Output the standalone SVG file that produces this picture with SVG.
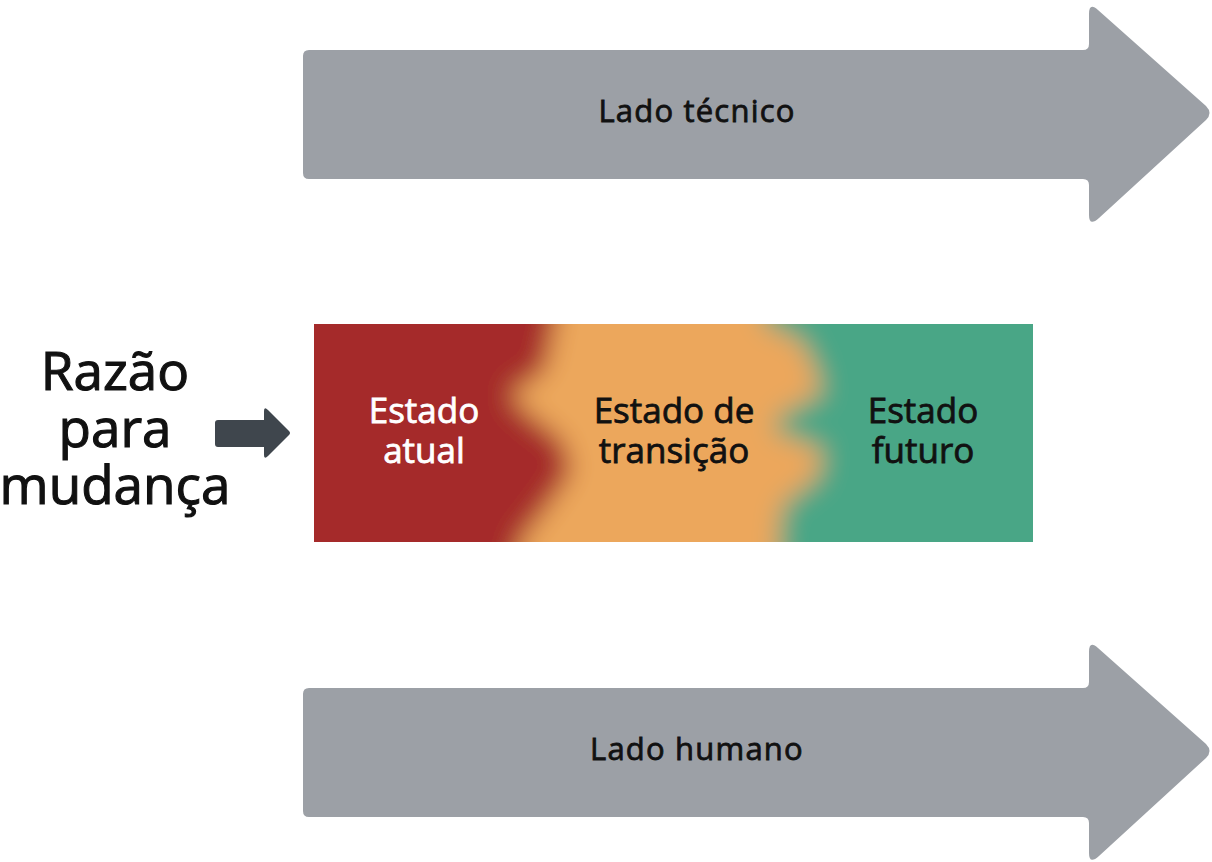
<svg xmlns="http://www.w3.org/2000/svg" width="1212" height="862" viewBox="0 0 1212 862">
  <defs>
    <style>
      .big { font-family: "Open Sans", "Noto Sans", sans-serif; font-size: 53px; fill: #111; stroke: #111; stroke-width: 1.1px; text-anchor: middle; }
      .lbl { font-family: "Open Sans", "Noto Sans", sans-serif; font-size: 35px; stroke-width: 0.8px; text-anchor: middle; }
      .side { font-family: "Open Sans", "Noto Sans", sans-serif; font-size: 31px; letter-spacing: 1.2px; fill: #111; stroke: #111; stroke-width: 0.8px; text-anchor: middle; }
      .gray { fill: #9ca0a6; }
    </style>
    <clipPath id="boxClip"><rect x="314" y="324" width="719" height="218"/></clipPath>
    <filter id="soft" filterUnits="userSpaceOnUse" x="250" y="250" width="850" height="370">
      <feGaussianBlur stdDeviation="13"/>
    </filter>
    <path id="bigArrow" d="M309 50 L1083 50 Q1089 50 1089 44 L1089 14 Q1089 2 1098 10 L1206 106 Q1213 113 1206 120 L1099 218 Q1089 227 1089 215 L1089 185 Q1089 179 1083 179 L309 179 Q303 179 303 173 L303 56 Q303 50 309 50 Z"/>
  </defs>

  <g id="technical">
    <use href="#bigArrow" class="gray"/>
    <text class="side" x="697" y="122">Lado técnico</text>
  </g>

  <g id="human">
    <use href="#bigArrow" class="gray" transform="translate(0,638)"/>
    <text class="side" x="697" y="760">Lado humano</text>
  </g>

  <g id="reason">
    <text class="big" x="115" y="390">Razão</text>
    <text class="big" x="115" y="447">para</text>
    <text class="big" x="115" y="504">mudança</text>
  </g>

  <g id="connectors">
    <path d="M218 420 L264 420 L264 411 Q264 406 268 410 L289 431 Q291 433 289 435 L268 456 Q264 460 264 455 L264 447 L218 447 Q215 447 215 444 L215 423 Q215 420 218 420 Z" fill="#3f464d"/>
  </g>

  <g id="states">
    <g clip-path="url(#boxClip)">
      <g filter="url(#soft)">
        <rect x="280" y="290" width="790" height="290" fill="#eca75c"/>
        <polygon points="280,290 560,290 555,324 545,370 510,395 530,415 562,440 572,470 552,500 520,542 515,580 280,580" fill="#a5292a"/>
        <polygon points="1070,290 760,290 765,324 800,340 812,362 822,392 782,414 772,430 822,450 818,476 782,505 778,542 780,580 1070,580" fill="#4aa686"/>
      </g>
    </g>
    <g id="current">
      <text class="lbl" x="424" y="423" fill="#ffffff" stroke="#ffffff">Estado</text>
      <text class="lbl" x="424" y="463" fill="#ffffff" stroke="#ffffff">atual</text>
    </g>
    <g id="transition">
      <text class="lbl" x="674" y="423" fill="#111" stroke="#111">Estado de</text>
      <text class="lbl" x="674" y="463" fill="#111" stroke="#111">transição</text>
    </g>
    <g id="future">
      <text class="lbl" x="923" y="423" fill="#111" stroke="#111">Estado</text>
      <text class="lbl" x="923" y="463" fill="#111" stroke="#111">futuro</text>
    </g>
  </g>
</svg>
